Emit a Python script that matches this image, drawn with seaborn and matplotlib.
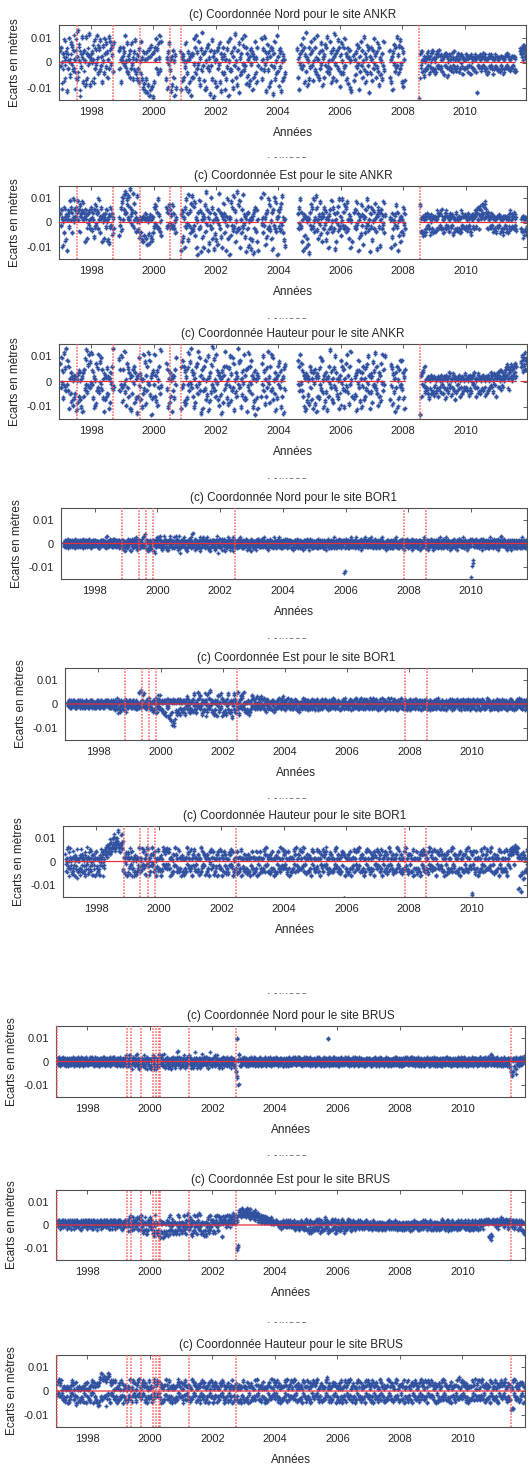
import numpy as np
import pandas as pd
import matplotlib
matplotlib.use("Agg")
import matplotlib.pyplot as plt
from matplotlib.transforms import Bbox
import seaborn as sns

W, H = 528, 1466
BLUE = "#3050a0"
RED = "#e8303a"

years = list(range(1997, 2012))

# one string per year, one character per week (spaces ignored)
# lower case a..z = +0.3 .. +15.3 mm, upper case = same but negative, '.' = no data
ankr_nord = [
    "hCkaRfMdoBgTj EbqHcnAlFiDsG pKeuJmbWhCrdN giPaqLfjBteOc",
    "fMhbKoDjAscGl iEpBdNkaHqfCm gJbrDoiAekFm. .......hEjcMa",
    "dkBhsCaFnGebJ iDmAcLgEpHbKf DjMaGoKcRhNbT LgUcPiWdSkQfX",
    "gNkbqDiHmcsEo ........KcRgA mFbTdPhJaWeQ. ......hRcMfKa",
    "CmRaHgTbNdWfK eJqBkGsDhAoLc PiEuBfMgSaRjD lFcVhBpKdXgNa",
    "bQhDkAmNfTcGj HeSbLiCoWaFqE gMdRjBtKaPhDn UcIfGqAlEsBkO",
    "fJbPdMiAgSeKc oHcNkB....DqL bjFrAhTcmEgQd NkBiVfCoLaHsG",
    "dPiCgTaMeKbH. ............. ......iKcSfAm DhqBjNeuGcPaL",
    "kCfoBhMaqEjGd sIbLgDnAhPcKe mBjFrCaHoDgNb iKdtAfMhCpEjQ",
    "eHnaGkCqBfLdj OchRaT...eMbI gCmAjSdFoBhKa rEfNcHlBiUdGk",
    "bMhDqAeKgCnFj PcIaLfBoE.... ....hKbNdSgAm FjCrBeHlDpAkN",
    "gQbM......... ............. ..XfBhaGcJbFa DdgBeHcCagEiD",
    "cFaHdgCfBiDeC bGdcIeBgCdJaE fCbDgEcBhDbFd CfbGcDfAdHcEb",
    "DbfCeGcBdHeCa EcFdbGcTeBdCf bDeCgBcFdEbHc GdCeBfDcHbEdC",
    "CdEbFcGdBeDcH bEdCfBgDcEbFd CeBdFcG...... .hjfkdilgkdhj",
]
ankr_nord_2 = [
    "CjaNgEpbKdhSf DqaJfmBkEhcRb iLdvGkaSfDqcM hFbOrKgeAsdPb",
    "gAlcNpEiBrdHk jFoCeMlbGpgDn hKcqEnjBflGn. .......iDkbNb",
    "ejAgrDbGmHfcK hEnBdKhFoGcLe EiNbHnLdQgOcS KhTdOjVeRlPgW",
    "hMjcpEjGndrFn ........LdQhB nEcSeOiKbVfR. ......gSdLeJb",
    "DnQbGhScMeVgJ fKpAjHrEgBnKd OjFtCgLhRbQkC mEdUiCoLeWhMb",
    "cPiEjBnMgSdHk GfRcKjDnVbEpF hLeQkCsJbOiEm TdHgFpBkFrCjN",
    "gIcOeLjBhRfJd nGdMjC....EpK ciEqBgSdlFhPe MjCjUgDnKbGrF",
    "ePjDhSbLfJcG. ............. ......jJdRgBl EiqCkMftFdObK",
    "jDgnCiLbpFkHc rJcKhEmBiOdJf lCkGqDbGnEhMc jJesBgLiDoFkP",
    "fGmbHjDpCgKej NdiQbS...fLcH hDlBkReGnCiJb qFgMdGkCjTeHj",
    "cLiEpBfJhDmGk OdHbKgCnF.... ....iJcMeRhBl GkDqCfGkEoBjM",
    "hPcL......... ............. ..KgDhbFeIcEb EdhCdGeDcgFh",
    "dEcGfhDeCiEfD cFeeHgCfDeIcD eDcFgGdChEcFe DgcGeEfCeHdDc",
    "EcfDeGdCeHfDc DdEfcGdUdCeDe cFdDgCdEfDcHd GfDdCeEdHcEfD",
    "DeDcEdFeCdEdG cDeDeCfEdDcEe DdCeEdF...... .gifjbkleicj",
]
ankr_est = [
    "gBjdQaHkcMeTb fiCpbkhGdqaje kdhpbjFmegiob hdNjfcLgAibEk",
    "cFhbKjDmAgiEq bHekcNfaLdgCj aMcOfDkBgIcE. .......JdBkFo",
    "rbjtgvhqmdsbx kfAiuCnbhGdsa FaKdHbMcNeJbg LcPaIdOfKbMeH",
    "DkAmBhCqEfGaJ ........kDhBm CjAfDmBgEaHc. ......TfNiKcR",
    "kCqAgMtBiHnDs FlBoJdRaWhEpC iUbKfQcmGvAjT dOhBrEkLaSgIc",
    "MbPjAuDhKfRcn gHaTeBqLcWdJo BkFsCiNaGvEmD pRbHjCtAfKdUg",
    "EhQaLcSbMfViD kGjNbT....rAc HuBdPgKiEqCmF aLhSjBrDoGcWe",
    "iCkFnAsHdMbQ. ............. ......gDkAqCh NbTfJeRcLaPdV",
    "hBmEkCqaGdsjF bLfAoIcNgeDkA iMcHbRfEjCpaG kDgSbNhAlFqCe",
    "JaqBhEmCkGoDb LfcRaN...hCjE oAgTbKdImBfPc eHjCqAlFbUgDk",
    "MaiEbnGdSfkCh QbjDfAoHe.... ....cRbKgEaPf BmDhTaJcNeGbI",
    "kAgD......... ............. ..mFcHdJbGeIc CgBeDcIfaEdHc",
    "dGbFcieDgBfEj EbHcgDiBeCdGb gCdBfIcGbEhFc bFdHcGiBdCeDf",
    "CdbFgBcGdIfbC fDeiCgjbkEflc ifmgkcodjfDhe bDeCgBcGdFbHc",
    "dCeBfdHcEbIeD eBcGdbHfCiDbf CeDhBcF...... .EcGeKbFdIcDb",
]
ankr_est_2 = [
    "fCicPbGjdLfSc ehDobjgHcpbid jcgobiGlfdhnc gcMieDKfBhcDj",
    "dEgcJiClBfhDp cGdjdMebKcfDi bLdNeCjCfHdD. .......IcCjEn",
    "qcisfugplcrcw jeBhtDmcgFcrb EbJcGcLdMdIcf KdObHcNeJcLdG",
    "CjBlCgDpDeFbI ........jCgCl DiBeClCfDbGd. ......SeMhJdQ",
    "jDpBfLsChGmEr EkCnIcQbVgDoD hTcJeRdlFuBiS cNgCqDjKbRfHd",
    "LcOiBtEgJeQdm fGbSdCpKdVcIn CjErDhMbFuDlE oQcGiDsBeJcTf",
    "DgPbKdRcLeUhE jFiMcS....qBd GtCcOfJhDpDlE bKgRiCqEnFdVd",
    "hDjEmBrGcLcP. ............. ......fEjBpDg McSeIdQdKbOcU",
    "gCmDjDpbFcrkE cKeBnHdMfdEjB hLdGcQeDiDobF jEfRcMgBkEpDd",
    "IbpChDlDjFnEc KecQbM...gDiD nBfSbJeHlCeOd dGiDpBkEcTfCj",
    "LbhDcmFeReiDg PciEeBnGf.... ....dQcJfDbOe ClCgSbIdMdFcH",
    "jBfE......... ............. ..lGdFeHcEfGd DfCdEdGecDeFd",
    "eFcDdgEfCgDie DcGdeEgCdDeFc fDeCdHdEcEfDd cDeFdEgCeDdEe",
    "DecDfCdEeGdcD eEdhDfjcjEejd gdmfkdmdheEgd cCdDfCdEeDcFd",
    "eDdCecFdDcGeD dCdEecFdDgEce DdEfCdE...... .DdFeIcEdGdCc",
]
ankr_haut = [
    "mDqAhKtCjFwBo FkSbIgNcQaLeH dTbOfJhMaRcUg KiEpBvGlCsDnA",
    "tBhKcRaPmFjDs GnAqEiLbUfMcK jHdSbOgAkEwC. .......pFiBrD",
    "NhBuGaQmDjKfS cTeHiAkOgLbVd JqCfMbRaHsEnP dGkAtBoIcWfLh",
    "BsJeNgQaDkHvC ........mEiRb OfKaUdGcLhBq. ......SjEoBkN",
    "gPcLiBtFnAwDh KeRbOjCmHuAqF dViSbGkEoMaJr TcNfHlBxDpGaK",
    "sAhMeQcJbVgOd jFuBkLaPiCrNe GqDmTaHfKcwBn EoRbJgAsLdMhU",
    "iCtFkAoHdQbNg WaLeSc....JmB rFhPbKiDuAcOj GsEqMaHfTbLdk",
    "BnDgRaKcViEl. ............. ......oBjGsAm FhKdQbTeNcIaP",
    "jDgMbSfAhPcUe KcLiBqEoGaRdN fHbTcKjAvDgMb OiCrEfJbLaSdH",
    "nAkEhQbFmCsGd PjBuaK...LcIe TgAoDhNbRfCjM bKiFlAqGdSeHc",
    "OmCgBtEjHaQfK dNlAsFhBr.... ....MkCiPeGbU fDjRaLhCoBnEg",
    "LcSh......... ............. ..WdKfBhCjGaE FcHbLaEdIbGcJ",
    "DbHaFcKbEaGdC aIcEbLdFaHcBg EaJbDfGcMaHbC bFdKaEcIbGaDf",
    "EbGcaJdFbHcAe CgDbKaEfHcbIa FcdGbEaJcbHdF aDbgCeHafBdKc",
    "bfDcgaEhbCdfa gcidkbEfhjcla hdkfmcj...... .mjqgoksinhpl",
]
ankr_haut_2 = [
    "lEpBgLsDiGvCn GjRcHfMdPbKdI cSaNeKgLbQdTf JhFoCuHkDrEmB",
    "sCgLdQbOlGiEr HmBpFhKcTeLdJ iIcRcNfBjFvD. .......oGhCqE",
    "MiCtHbPlEiJgR dSdIhBjNfKcUe KpDeLcQbIrFmO eFjBsCnJdVeKg",
    "CrKdMhPbEjIuD ........lFhQc NgJbTeFdKiCp. ......RkDnCjM",
    "hOdKjCsGmBvEg JfQcNkDlItBpG eUhRcFjFnLbIq SdMgGkCwEoFbJ",
    "rBgLfPdIcUhNe kEtCjKbOjDqMf FpElSbGgJdvCm DnQcIhBrKeLiT",
    "jDsGjBnIeRcMh VbKfRd....KlC qGgObJjEtBdNk FrFpLbIgScKek",
    "CmEhQbJdUjFk. ............. ......nCkFrBl GgJeRcSfMdJbO",
    "kEhLcRgBiOdTf JdKjCpFnHbQeM gGcSdJkBuEhLc NjDqFgIcKbReP",
    "oBjFiRcGlDrHe OkCtbJ...KdJf ShBnEgMcQgDkL cJjElBrHeRfGd",
    "NnDhCsFkIbPgJ eMmBrGiCq.... ....LlDjOfHcT gEkQbKiDnCoFf",
    "KdRi......... ............. ..VeJgCgDkHbD EdIcKbFeHcHdI",
    "CcGbEdJcDbHeB bHdDcKeEbGdCf DbIcEeFdLbGcB cEeJbDdHcFbEe",
    "DcFdbIeEcGdBd BfEcJbDeGdcHb EdeFcDbIdcGeE bEcfDdGbeCeJd",
    "cegDdhbFgcDeb hdjeljcFgidkb iejgldk...... .nkrhplthoiqm",
]
bor1_nord = [
    "aBcAbCaDbaBcA bAcBaCdAbBaCa BaCbAcBdaBcAb aCbAdBaCbAcBa",
    "BcAbaCbDaBcAb cAbBaCeAbCaBd AbCaBdAcBaCbA bDaCbAcBaEbCa",
    "CaBdAcbEaBcDa dBaCeAbDcAbCa BdAfCaBcEaDbA cBaDbAcFaBdCb",
    "AcBeaDbCaBfAc bDaCbEcAdBaCb aCeBbAdCaBfDa CbAdBaCbEaDcB",
    "bAcDaBgCaBdAc DaBcAeCbAdBcA cBdAbCaEbDaBc AbDcaBcAfBaCd",
    "BaCdAbEcAbCaD aBdCaBcAeBbCa CbAcBdaBcAbDa bCaBdAcBaCbEa",
    "AcBaDbCaBcAdB bAcCaBdAbCaBc aDbAcBaCbDaBc CaBbAdCaBcAbD",
    "bCaBcAdBaCbAc AbDaCbBcAaCbD aBcAbDaCbAcBa dAbCaBcAbDaCb",
    "BaCbAcDaBbCaA cBaDbCaAbCdBa AcBbCaDaBcAbC aBdAcCbAaBcTb",
    "CaBcAbDaCbAcB bAcDaBbCaAcBd aCbBdAcAbCaBc BdAaCbCbAdBaC",
    "aBcCbAdBaCbAa DbCaBcAbDaCbB cAaBdCbAaCbDa BaCdAbCaBbAcD",
    "AbCaBdCaAbCbA cBaDbAcCbAaBd BaCbAcDaBbCaA cDaBbAcBaCdAb",
    "aCbAbDaCcBaAb BcAaDbCbAcBaD aBbCaAdBcAbCa CbAcBaDbAaCbB",
    "XcNaBbAcBaCbA bAcCaBdAbCaBc AcBaDbCaBcAdB aCbBcAdCaBeAb",
    "BcAbCaDbAcBaC bDaCbAcBaDbCa AcBbCaDbAcBaC bAcD.........",
]
bor1_nord_2 = [
    "BaCbaAcBdAbCa aCbAbDaBcAcBb AcBaCbDaAbCcB bBcAaCbDaBcAa",
    "cAaBbCaDbAcBb AcBbCaDfAbBcA cBaCbAdBcAaBc AcCbAbDcBaFaB",
    "bDaCbAcFbAdCb CcAbEaCdBaDbB aCeBgAbDcFbEa DaCbEcAbGbCeA",
    "cBdAfBcEaDbBd CaEbDcAfBcDaC bDbCfAcEbDaGc bBcAeCaDbFaCd",
    "AcBeCbAhBcEaD bCaDbFaDcBeAc DaCeBbDaFcCaB cBaEbDcaGbAdC",
    "aCbEaBdFbCbAe BbEcAbDbFaCcB aDbCaCeAbDaBc CaBcEaDbCaBdF",
    "bDaCbAcEaBdCa CaBdAbCeBaCbD bEaBdCbAaCeAb aDbCbAeCbDaBc",
    "CaBdBbDaCcAbD bCbEaAcDbBdAc AbDbCaEaBcDbB cBaEbBdAcCaDb",
    "aCbDaAdBcCbBa DaCcAbEbAcDaC bDaCcAeBaDbCc BbCaDcBAcUbDa",
    "dBaDbBcAeCaCb AcBeCaDbCbAcE bDbAcCeAbBdCa aCeBbDaAcCbDb",
    "BbDaCcAeBbCaB aEcBbDaCbAcDb DbBcAeCaDbBcA bCaDbEcAaBdCb",
    "bCbAcEaDcBaBc aDbBcEaDbCaCe CbDaAcEbBcAdB aEcBbDaCbDaCe",
    "BbDaCdAcBeAbD cAbEaCbDaBdCa AcEbBdAaCcBeB bDcAaEbCbBdAc",
    "PdLbCcAdCbBaD bBdAcEaCbDaCb CaDbAeBcCaDbB aDcBaEbCcAfBa",
    "cAdBbCaEbDaBc aEcBbDaCcAbDb bCaDcAeBbCaDc aCbE.........",
]
bor1_est = [
    "aBcAbCbaBcAbC AbCaBcbAcBaCb bAaCbBcAbaCbA cBaCbAbCaBcAb",
    "BaCbAcBbaCbAc aBcAbCbAcBaCb CbDaBeCaDbFcA bCaEBdAcBaCbA",
    "AbCaBcAbCaBcD bAhCaBiAcBgAb CaBdAcBaDbCaE bFaCdAeBgCaDb",
    "EbDaFcGbHaCdB IaKcGbOdLaPcF aHcEbGdCaFbDc DaGcBeAdFbCaE",
    "bEcAgDaFcBhAd CfBaGcEbDhAcF gAdCiBaEcFbGa DbHcAfEaCgBdI",
    "cFaEbGcAhDbFa EcIbAgDcFaBhC aGdBfCeAhCbEa FbDcGaEbCfAdB",
    "cDaBeCbAdCaBf AcBdCaEbAcDaB bCaDcAbEaCbDa BcAdBaCeAbCaD",
    "aBcAdBbCaAcDb CaBcAbDaCbEaA bCaBdAcCbAaDc BaCbAcDaBbCaA",
    "cBaDbCaAbCdBa AcBbCaDaBcAbC aBdAcCbAaBcAb DbCaBcAbDaCbB",
    "aCbBdAcAbCaBc BdAaCbCbAdBaC aBcCbAdBaCbAa cAaBdCbAaCbDa",
    "BaCdAbCaBbAcD AbCaBdCaAbCbA cBaDbAcCbAaBd BaCbAcDaBbCaA",
    "cDaBbAcBaCdAb aCbAbDaCcBaAb BcAaDbCbAcBaD aBbCaAdBcAbCa",
    "CbAcBaDbAaCbB bAcCaBdAbCaBc AcBaDbCaBcAdB aCbBcAdCaBcAb",
    "BcAbCaDbAcBaC bDaCbAcBaDbCa AcBbCaDbAcBaC bAcDaBcAbCaBd",
    "AbCaBcDaBbCaA cBaDbCaAbCdBa AcBbCaDaBcAbC aBd..........",
]
bor1_est_2 = [
    "bAcBaCcAbBcaA bCaBcAbCbaBcA aCbBcAbaCbBcA bAcBaCbaCbAcB",
    "aCbAcBbCaAcBb bAcBaCbaCbBcA bEcAaDbGcBaEb CbDaAcFbCaBcA",
    "cBaCbAcBaCbDa aBiAbCjBcAhBa bDaCcAeBbDaCc aEbDcGaFbBdCg",
    "DcEaGbFcIaBdC JbHcLaFbNcKbE bGdFaHcDbEaFc CbHaDfBcEaGbD",
    "cFdBhEbGaCiBe DgAcHbFaEcIbD hBeDjAcFbGaHc EaIbBgFbDhCeH",
    "bGbFaHdBgEaGb FbJcBhEdGbCiD bHcAgDfBiDaFb GaEbHbFcDgBeC",
    "dCbAfDaBeDbCe BdAeDbFaBdCbC aDbEbBcFbDaCb CdBeAcDbBfAcE",
    "bCdBeAaDbBdCa DbAdBcEbDaFbB aDbCeBdDaBcEb CbDaBdCbAcEaB",
    "dAbEaDbBcDcAb BdAcCbEbCaDcB bCeBdDaBbCaDb EaDbCdBcAeCbA",
    "bDaCcEbBaDcAd CeBbDaDcBeCbD bCdDaBcBaDbCe aDbBeCcBdAbEb",
    "CbDaBeBdAcEbC aBeCbDbBeCaDc dCbBaEcDbAcCe CbDaAdCbEaBcB",
    "dEbCaCcAdDbBa bDcAcEbBaDcCb CdBbDaBcEaCbD bCcBbDaAeCbDb",
    "DcBbDbAaEcCbA cBdBbEaCcDaBb BdAbDcAcEbBaD bDcAcDbBaEcCb",
    "CdAcCbEbBdAcD cEaCdBbDaCbAe BdBcEaCbDaDbC aCdBbEcAbDbCa",
    "BcBbDaEbCbAdC dDaCbEaAbDcBc BeBdCbDaAcEbB cBe..........",
]
bor1_haut = [
    "fBiAkDgEjCaHd GcJaFdLbHaGeE iCfHbDgKcFaId HbFcGeJaCfKcg",
    "DbGcJeCiAdKfE bhfkdlgimfpgj kpmthnlqowmkh mlsinFcHdAgJc",
    "fHbDjCgKbEdHc JaGdCkFbHcDjB gDbIfCkAiDcGf CjAeHgFcKbDiG",
    "bFdJcGkBhDfCi EhBgFcKdIbHfC kCfGbEiHcFbKd GbJcEdHkBgEcF",
    "hDbKfCiGdBcHf FcJbGkDhBfCeJ bHfEcKgAiFdCh JcGbDfKhCbFiE",
    "dKbGhCfIcEbHg CfBiDhKbGcFdI gBcHdFiKbDcGf HbEcIfGbKdChF",
    "cIdGbFhKcBdIg FcHbEiGfCkBeH bGfIcEhFbKcGd IdBhFcGkEbCiF",
    "fBhEcIgFbKdHc GcFiBeHkCbGfE iEbFhCkGdBcIf HbGeFcKiBhEcG",
    "cFiEbHgKcBfDi GeCgBkFbIcEgH eHbGcFiBkEcHf FbIeGhCgZfKdE",
    "bGfIcEhKbFdCi HcBgEiFkCbHeG fEcKbHgBiFcEh IbFeGcKhBeCiF",
    "gCbHfEiKcBeGh FeIbCkGhBcFeI bHcGeFkBiDcHf GcIbEhFkCbGeI",
    "eBfHcGiKbEcFh IcEbGfKhBeDiG fHbEcIgBkFeCh GbFiEcKhBgEfD",
    "iCeGbHfKcBeIg FbHcEiGkBfDeH cGbIeFhKbEcGf HeBiFcGkEbChF",
    "WfBhEcIgFbKdH GcFiBeHkCbGfE iEbFhCkGdBcIf HbGeFcKiBhEcG",
    "cFhEbGiKcBfDi hegkfBiljgfkd TcKeVbIfMdHcG FiB..........",
]
bor1_haut_2 = [
    "GbHcEaKdFbIcE hCeKbDiGaFcJd FbHdGaIeCkBdF gDiAhCeJbFcIh",
    "EcHaFdJbDgAhC fiehdkgjmfnhk jqlrinkoqumjg lmtjoGdIcBfKd",
    "gEcIdBhFaKcGe IbHcEjDcGaFiC hEcJeBiDaJcHe DkBfGhEaJcEhF",
    "cGeKbFhCiEgBj FgCiEbJcHaGeD jDeHcFhGdEcJe HcIbFcGjCfDbG",
    "iEcJeDhFcCbGe GbIcHjEgCeDdI cGeFbJhBhEcDg IbHcEeJgDcEhF",
    "eJcHgDeHbFbIf DeChEgJaHcEcH hCdGcEhJcEbFe GcFbHeHcJcDgE",
    "dHcHcEgJbCcHh EbGcFhHeDjCdG cHeHbFgEcJbHe HcCgEbHjDcDhE",
    "eCgFbHhEcJcGd HbEhCfGjDcFeF hFcEgDjHcCbHe GcHdEbJhCgFbH",
    "bEhDcGhJbCeEh HdDfChEcHbFfG fGcHbEhCjDbGe EcHdHgDfZeJcF",
    "cHeHbFgJcEcDh GbChFhEjDcGdH eFbJcGhCiEbFg HcEfFdJgCdBhE",
    "hDcGeFhJbCdHg EfHcDjFgCbEfH cGbHfEjChEbGe FbHcFgEjDcFfH",
    "fCeGbHhJcFbEg HbFcHeJgCfEhF eGcFbHhCjEdDg FcEhFbJgCfFeE",
    "hDfFcGeJbCfHh EcGbFhHjCeEfG bHcHfEgJcFbHe GfChEdHjFcDgE",
    "XeChFbHhEcJcG HbEhCfGjDcFeF hFcEgDjHcCbHe GcHdEbJhCgFbH",
    "bGgFcHhJbCeEh ifhjgCjkihgjc SdJfUcHgLeGbH EhC..........",
]
brus_nord = [
    "bAcBdAaCbBcAd AcBaDbCaBcAbC aBdCbAcBaCdAb CaBbAcDaBcAbC",
    "bCaAdBcAbCaBd AbCcBaDbAcBaC bAdCaBbCaAcBd aCbBcAdBaCbAc",
    "BaCdAbCaBbAcD cBaDbAeCaBdAb AcBeCaDbFaCbA bDaCbEcAdBaCb",
    "EaCbDcFaBdEbC aCeBbAdCaBfDa CbAdBaCbEaDcB bAcDaBgCaBdAc",
    "DaBcAeCbAdBcA cBdAbCaEbDaBc AbDcaBcAfBaCd BaCdAbEcAbCaD",
    "aBdCaBcAeBbCa CbAcBdaBcAbDa bCaBdAcBaCbEa HpLaQfCbDaBcA",
    "cAbDaCbBcAaCd BaCbAcDaBbCaA cBaDbCaAbCdBa AcBbCaDaBcAbC",
    "aBdAcCbAaBcAb DbCaBcAbDaCbB aCbBdAcAbCaBc BdAaCbCbAdBaC",
    "aBcCbAdBaCbAa cAaBdCbAaCbDa BaCdAbCaBbqcD AbCaBdCaAbCbA",
    "cBaDbAcCbAaBd BaCbAcDaBbCaA cDaBbAcBaCdAb aCbAbDaCcBaAb",
    "BcAaDbCbAcBaD aBbCaAdBcAbCa CbAcBaDbAaCbB bAcCaBdAbCaBc",
    "AcBaDbCaBcAdB aCbBcAdCaBcAb BcAbCaDbAcBaC bDaCbAcBaDbCa",
    "AcBbCaDbAcBaC bAcDaBcAbCaBd AbCaBcDaBbCaA cBaDbCaAbCdBa",
    "AcBbCaDaBcAbC aBdAcCbAaBcAb CbAdBaCbAcBaD bCaBdAcbeCaBd",
    "aCbBcAdBaCbAc BaCdAbCaBbAcD EbGaKcHbDaFcB aCbBdAcaBcAbd",
]
brus_nord_2 = [
    "AbCcAbDaBcBaC bCaAcBbDaCbAc AcBbDaCbAcBaD bBdAcCbBaCdAa",
    "CaBbAcBdAbDaC bAcCbDaBcAaBd aBcDbAcBaCbDa BcAdBbCaAcDbB",
    "aDbCaBcDaBcAe CbAeBcDaFbAcC bDaBfAcEbBaDc aCeBbDaFcAbDb",
    "DbFcAeBcDbFaD bDfAcBeCbDaEb aCcEbDaBcFbAd CaEbBdAhBcEaD",
    "bCaDaEbCbDaBe AcEbDaBcBgAcE bDaCbEaDcBbAc aCdBcEaAgCbDb",
    "BcAeDaCbCaEbD bBcEaDcAbCdBa aDcBbEaCbDbCa GqKbPeDaCcAbB",
    "dBaCcBaDbCaBc aCbBdAcCaBbDa BdAaCbCbAcDaB cBaCdAbCbAcBa",
    "BcBaDbAcCbAaD aCcBaDbBcAdCb bCaAcBdBaCbAd aBcCaDbAbCaBd",
    "cAbBcDaAbCbBa bDaCbAcBdCaAb aBcDbAcCbApdA cBaCbAdBaCcAb",
    "aDbBcAdCbAaCb cAbBdCaBbCaAd bCdAcBaDbCaBc CbAaCbDbAcCaB",
    "cAbDbBaCcAdBb BcAbDaCcBaAbD aBdCbAcCbBaDb aCbAdCaBcAbDa",
    "bDbAcCaBdAcBa CbAcBdAbCcAaD aCbAdCaBbDaCb CcAbBdAaCbDcB",
    "cBaCdBbAcDaCb aCbBcDaAbCcBd BbAcCaDbBcAaC bCaAdBcCbAaDc",
    "bBdAcCaAbDcBa CbAbDcAcBaDbC aCdBbCaAcBdCa BaCdAcbfCbAdC",
    "CbAcDaBbCaAcD aDbBcCaAbDcBb DcHbJaGcEbIdC bAcDbCaBdAcbe",
]
brus_est = [
    "acbAdbaCbcaBd bAcabCdaBcbaC dbaCbcAdbaBcb aCdbaBcbAdcaB",
    "cbAdaBcbCadbA bcaDbcAbdaCbc AdbcaBdbcAbCa dbCacbAdbcBab",
    "cAbdaCbcBadbA dcbEafBcgAdbC bdcAebCfaDbgB cEaDbfCaGbdAc",
    "fBdCaGbEhAcFb DaGcIbEaJcFbH aEcGbDfAhCbEa GbDcFaEhBcGaD",
    "bFcAgDaFcBhAd CfBaGcEbDhAcF gAdCiBaEcFbGa DbHcAfEaCgBdc",
    "cFaEbgcAhDbfa ecIbagdcfaBhc agdBfceahcbea fRdPgkhjfligk",
    "hjgkfimhjgleh ighjekfhgidhf gehcfdgbfeccd fbdcebdacbdab",
    "cbdacbAbcaBcb aBcbAcaBdbAca BacAbBdaCbAcB aCbAdBaCbAcBd",
    "CbDaEcBdFbCaE bDcAeCbDaFcBd EaCbDfBcAdEbC DbaCeBdcAFbDc",
    "BcDaEbCdAbFcB aDbCeAcBdDaCb cAbDaBcAbCaBd AbCaBbcAdBaCb",
    "bAcBaCbdAbCaB cBaDbcAbCaBbA bCaBcAbdCaBcA cBbAdCaBcAbCa",
    "BaCbAcDaBbCaA cBaDbcaAbCdBa AcBbCaDaBcAbC aBdAccbAaBcAb",
    "DbCaBcAbDaCbB aCbBdAcAbCaBc BdAaCbCbAdBaC aBcCbAdBaCbAa",
    "cAaBdCbAaCbDa BaCdAbCaBbAcD bcaBdcbAcbdca dbcaeHbJcGdac",
    "bcaBdcbAcdbae cbdaBcbdcaBdb adcbBcdaCcbda bCdaBcaDbEcFa",
]
brus_est_2 = [
    "bcAdbcaBcdaBc cAdbcaBcbdaCb cbAdcaBcbdAcb bDcaBdcbAcdaC",
    "bdaBcdcAbCdbB caBdcbAcadBcb BdcaBdcAbCbda cbAdbdcCabBcd",
    "dBacbDcaBcdAb cdAbeEgcDafCb cdBafbDeaCdhA dFbEcaGbEcDab",
    "eCdBbFaHcEaGb EbHdJaFcIbEaG bFdHaEcGbDeAc FcEaGbDhAfCbE",
    "cEbBhCbGdAiBc DeAbHdFcEgBbG hBcDhAbGcEaHb EcGbBeFaDhAcd",
    "dEbFagdBgEcga fdHbcfedgbAgd bhecgdfbigcdf hQcOhjikgmhhj",
    "ikhjgjlgiflfi hfjgidjgfhcif fdgbegcfcgbde ecedcfcbdacbc",
    "bdcbcaBcbaCbd bAcbBdaAcbBdb aBcbBcaDbBcAc bDbBcAcBbDaCe",
    "DcCbFaDcEbBcD cCdBdDcBeAcEb DbDcCeAbBcFbD EcbDdCcBeBFcD",
    "CdCaDcBeBcEbC bCcBdBdAcEcBc dBcCbAcBdBbAc BcBbCcBdAcAbC",
    "aBcAbDcAcBbCa bCaCcbBaDcCaB aDbAbBcaBcCbB bCcAcBbDaCcAb",
    "CaDbBbCaAcCbB bCbEaAcDbBcBb BcBaDbAcCbAdB bAcBbDbBcAdCa",
    "CbDbAcBbCcAaD bBcCeAbBcDaBd AcEbBbDaCcAaB bBcDaBcCbBdAa",
    "bBbCcCaBdAcDb CbBcDaAdCbBbC cdbCdbcaCdcbd ebdbdIcKbHceb",
    "cdbAcebCbdcaf bcecAdcebdCbd bedcAdbcBbdcb cDcaCdbEcDbGa",
]
brus_haut = [
    "eBgAiCfDhBaGc FbHaEcIbGaFdC hBeGaCfIbEaHc GaEbFcHaBeIbf",
    "DaFbHdCgAcIfE cGeIdKfHjEmGi iDkEhCjFmBkIg BeCgDaFhEbIcG",
    "eGaDhCfIaEdGb HaFdCiEaGbDhB fDaGeChBiDcFe ChBdGfEcIaDgF",
    "bEdHcFiBgDeCh DgBfEcIdHbGeC iCeFbDhGcEbId FbHcEdGiBfDcE",
    "gDbIeChFdBcGe EcHbFiDgBeCdH bGeDcIfBhEdCg HcFbDeIgCbEhD",
    "dIbFgCeHcDbGf CeBhDgIbFcEdH fBcGdEhIbDcFe GbDcHeFbIdCgE",
    "cHdFbEgIcBdHf EcGbDhFeCiBdG bFeHcDgEbIcFd HdBgEcFiDbChE",
    "eBgDcHfEbIdGc FcEhBdGiCbFeD hDbEgCiFdBcHe GbFdEcIhBgDcF",
    "cEhDbGfIcBeDh FdCgBiEbHcDfG dGbFcEhBiDcGe EbHdFgCfBeIcD",
    "bFeHcDgIbEdCh GcBfDhEiCbGdF eDcIbGfBhEcDg HbEdFcIgBdChE",
    "fCbGeDhIcBdFg EdHbCiFgBcEdH bGcFdEiBhCcGe FcHbDgEiCbFdH",
    "dBeGcFhIbDcEg HcDbFeIgBdCgF eGbDcHfBiEdCg FbEhDcIgBfDeC",
    "hCdFbGeIcBdHf EbGcDhFiBeCdG cFbHdEgIbDcFe GdBhEcFiDbCgE",
    "eBgDcHfEbIdGc FcEhBdGiCbFeD hDbEgCiFdBcHe GbFdEcIhBgDcF",
    "cEhDbGfIcBeDh FdCgBiEbHcDfG dGbNcLhBiDcGe EbHdFgCfBeIcD",
]
brus_haut_2 = [
    "fCgBhDeEhCaFd EcGbDdIcHbEeB gCfFbDgJcEbGd HbFcEdHbCfHbg",
    "EbGcGeBhBdHgD dFfHeJgGiDlFh hEjDgKiCjFlHh CfBhEbGgDcHbF",
    "fFbEgDeIbDeFc GbFcDhEbHcCgC fEbHeDgCiEbEf DgCcHfFdHbEhE",
    "cCdHcFgCfEdDf BgBfFcHeGcFeC hCeFbEgHdDcHe FcGcEeFgBgEdD",
    "fEbGeCgGdCcFe EcFbFhDgBfDcG bGeEcGfCgFcDf HcGcEeHfBbEgE",
    "eHcEfDdHcEbFf DdBgEeGcHdDdG fCbGeDhHcCcGf FcDbHeGcHcDhF",
    "dGcGcFfHdCcGe FcFbEhGeDhCeF cGeGbEgFcHbGc GeCfFcEiDcBgF",
    "fChEdGeFcHdFd GdEgCeHhCcGeE gEcFgDhGeCbGf FcGeFbHgCgEdH",
    "dFgEcFgHdBfEg EeDfChFbGdDeH eFcGcFgCjDbHf FcGdGfDeCfHdE",
    "cGfGbEhHcFdDg HcCeEgFhDbHcE fEcHcFgChFcEf GcFeEcHhCeDgF",
    "eDcHfEgHdCeEf FcGbDhGfCdDeG cHcGeFhCgDdFf GdGbEfFhDbGeG",
    "eCfFdFhHcEcFh GdCbGeHfCeDhE fFbEdGgChFeDf GcFgEcHhCfEeD",
    "gDeEbHfHdCeGf FcGdEgGhCfEdG dEcGeEgHcCcEe HeChFdFjEcDhF",
    "fCfEdGeEcHcFd GdFgCeGiDbGfE hFcGgEhFeCcHf FcFeEdHgCfDbG",
    "dFgEcHeHdCfEg EfDeDgFcGcEeG eFcLbMgChEdFf FbGeGfDgCeHcE",
]

# discontinuity dates (decimal years)
ankr_breaks = [1997.54, 1998.70, 1999.57, 2000.54, 2000.88, 2008.53]
bor1_breaks = [1998.87, 1999.40, 1999.64, 1999.87, 2002.46, 2007.86, 2008.56]
brus_breaks = [1997.04, 1999.28, 1999.39, 1999.71, 2000.11, 2000.21, 2000.28,
               2000.33, 2001.26, 2002.77, 2011.55]

components = ["Nord", "Est", "Hauteur"]
sites = ["ANKR", "BOR1", "BRUS"]
series = {
    "ANKR": [[ankr_nord, ankr_nord_2], [ankr_est, ankr_est_2], [ankr_haut, ankr_haut_2]],
    "BOR1": [[bor1_nord, bor1_nord_2], [bor1_est, bor1_est_2], [bor1_haut, bor1_haut_2]],
    "BRUS": [[brus_nord, brus_nord_2], [brus_est, brus_est_2], [brus_haut, brus_haut_2]],
}
breaks = {"ANKR": ankr_breaks, "BOR1": bor1_breaks, "BRUS": brus_breaks}
xlims = {"ANKR": (1996.97, 2011.97), "BOR1": (1996.93, 2011.78), "BRUS": (1997.0, 2012.0)}

# axes boxes in pixels: left, top, right, bottom
boxes = [
    (59, 25, 526, 100), (59, 186, 527, 259), (59, 344, 527, 419),
    (61, 508, 527, 579), (65, 668, 527, 740), (63, 826, 527, 897),
    (56, 1026, 525, 1097), (56, 1190, 525, 1260), (56, 1355, 525, 1427),
]
# leftover bottom edge of an "Années" label above some titles (baseline, px)
ghost_y = [158, 319, 479, 639, 799, 994, 1156, 1323]


def decode(rows, phase):
    xs, ys = [], []
    for yr, row in zip(years, rows):
        row = row.replace(" ", "")
        n = len(row)
        for i, c in enumerate(row):
            xs.append(yr + (i + phase) / n)
            if c == ".":
                ys.append(np.nan)
            elif c.islower():
                ys.append((ord(c) - 97 + 0.5) * 0.0006)
            else:
                ys.append(-(ord(c) - 65 + 0.5) * 0.0006)
    return pd.DataFrame({"annee": xs, "ecart": ys})


sns.set_style("white")
plt.rcParams["font.family"] = ["Liberation Sans", "DejaVu Sans"]

fig = plt.figure(figsize=(W / 100, H / 100), dpi=100)

k = 0
for site in sites:
    for comp, passes in zip(components, series[site]):
        l, t, r, b = boxes[k]
        k += 1
        ax = fig.add_axes([l / W, 1 - b / H, (r - l) / W, (b - t) / H])
        n = len(passes)
        df = pd.concat([decode(rows, (j + 0.5) / n) for j, rows in enumerate(passes)])
        df = df.sort_values("annee")
        sns.scatterplot(data=df.dropna(), x="annee", y="ecart", ax=ax,
                        marker="+", s=10, color=BLUE, linewidth=1.05,
                        legend=False, zorder=2)
        # zero line only where there is data
        zero = np.where(df["ecart"].notna(), 0.0, np.nan)
        ax.plot(df["annee"], zero, color=RED, lw=0.9, zorder=3)
        for d in breaks[site]:
            ax.axvline(d, color="#ff5a5a", lw=1.1, ls=(0, (1, 1)), zorder=4)

        ax.set_xlim(*xlims[site])
        ax.set_ylim(-0.015, 0.015)
        ax.set_xticks(range(1998, 2011, 2))
        ax.set_xticklabels([str(y) for y in range(1998, 2011, 2)])
        ax.set_yticks([-0.01, 0, 0.01])
        ax.set_yticklabels(["-0.01", "0", "0.01"])
        ax.tick_params(direction="in", top=True, right=True, length=3,
                       width=0.6, color="#444444", labelsize=8, pad=5)
        for sp in ax.spines.values():
            sp.set_color("#505050")
            sp.set_linewidth(0.8)
        ax.set_title("(c) Coordonnée %s pour le site %s" % (comp, site),
                     fontsize=8.5, pad=5)
        ax.set_xlabel("Années", fontsize=8.5, labelpad=7)
        ax.set_ylabel("Ecarts en mètres", fontsize=8.5, labelpad=4)

for gy in ghost_y:
    txt = fig.text(288 / W, 1 - gy / H, "Années", ha="center", va="baseline",
                   fontsize=8.5, color="#666666")
    txt.set_clip_box(Bbox.from_extents(0, H - gy, W, H - gy + 1.5))
    txt.set_clip_on(True)

fig.savefig("out.png", dpi=100)
